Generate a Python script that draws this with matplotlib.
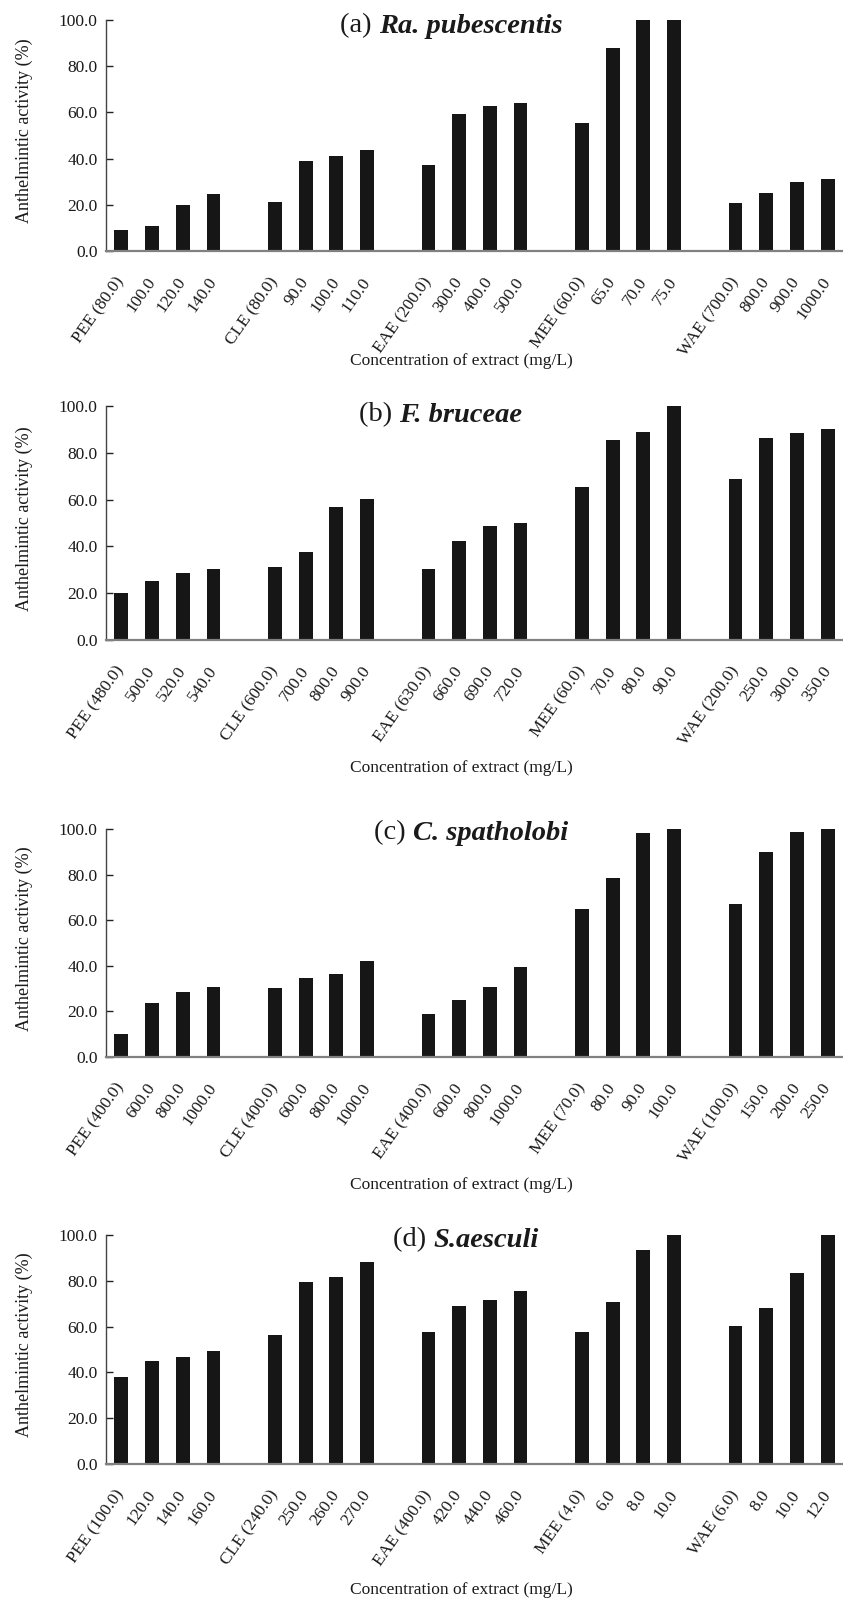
import matplotlib
matplotlib.use("Agg")
import matplotlib.pyplot as plt

plt.rcParams['font.family'] = ['Liberation Serif', 'DejaVu Serif']

titles_prefix = ["(a)", "(b)", "(c)", "(d)"]
titles_name = ["Ra. pubescentis", "F. bruceae", "C. spatholobi", "S.aesculi"]

labels_a = ["PEE (80.0)", "100.0", "120.0", "140.0",
            "CLE (80.0)", "90.0", "100.0", "110.0",
            "EAE (200.0)", "300.0", "400.0", "500.0",
            "MEE (60.0)", "65.0", "70.0", "75.0",
            "WAE (700.0)", "800.0", "900.0", "1000.0"]
values_a = [8.9, 10.8, 20.1, 24.6,
            21.4, 39.1, 41.1, 43.6,
            37.1, 59.4, 62.7, 64.0,
            55.5, 87.7, 100.0, 100.0,
            20.7, 25.3, 29.9, 31.1]

labels_b = ["PEE (480.0)", "500.0", "520.0", "540.0",
            "CLE (600.0)", "700.0", "800.0", "900.0",
            "EAE (630.0)", "660.0", "690.0", "720.0",
            "MEE (60.0)", "70.0", "80.0", "90.0",
            "WAE (200.0)", "250.0", "300.0", "350.0"]
values_b = [20.1, 25.4, 28.7, 30.5,
            31.1, 37.8, 56.8, 60.1,
            30.5, 42.4, 48.9, 50.2,
            65.3, 85.6, 88.9, 100.0,
            68.6, 86.3, 88.3, 90.2]

labels_c = ["PEE (400.0)", "600.0", "800.0", "1000.0",
            "CLE (400.0)", "600.0", "800.0", "1000.0",
            "EAE (400.0)", "600.0", "800.0", "1000.0",
            "MEE (70.0)", "80.0", "90.0", "100.0",
            "WAE (100.0)", "150.0", "200.0", "250.0"]
values_c = [10.2, 23.6, 28.3, 30.8,
            30.2, 34.8, 36.3, 42.1,
            18.8, 24.8, 30.8, 39.5,
            64.9, 78.7, 98.1, 100.0,
            66.9, 90.1, 98.8, 100.0]

labels_d = ["PEE (100.0)", "120.0", "140.0", "160.0",
            "CLE (240.0)", "250.0", "260.0", "270.0",
            "EAE (400.0)", "420.0", "440.0", "460.0",
            "MEE (4.0)", "6.0", "8.0", "10.0",
            "WAE (6.0)", "8.0", "10.0", "12.0"]
values_d = [38.1, 44.8, 46.9, 49.5,
            56.2, 79.5, 81.5, 88.1,
            57.5, 68.9, 71.5, 75.4,
            57.5, 70.7, 93.4, 100.0,
            60.1, 68.1, 83.4, 100.0]

yticks = [0, 20, 40, 60, 80, 100]
xlabel = "Concentration of extract (mg/L)"
ylabel = "Anthelmintic activity (%)"

W, H = 843, 1600
fig = plt.figure(figsize=(W / 100, H / 100), dpi=100)

# layout in pixels: (axes top, axes bottom, title x left, title y center, xlabel y)
layout = [
    (20, 251, 340, 26, 361),
    (406, 640, 359, 415, 768),
    (829, 1057, 374, 833, 1185),
    (1235, 1464, 393, 1240, 1590),
]
ax_left = 106

panels = [(labels_a, values_a), (labels_b, values_b),
          (labels_c, values_c), (labels_d, values_d)]

for k, ((labels, values), (top, bot, tx, ty, xly)) in enumerate(zip(panels, layout)):
    ax = fig.add_axes([ax_left / W, 1 - bot / H, (W - ax_left) / W, (bot - top) / H])
    pos = [i + i // 4 for i in range(len(values))]
    ax.bar(pos, values, width=0.45, color='#161616', zorder=2)
    ax.set_xlim(-0.5, 23.5)
    ax.set_ylim(0, 100)
    ax.set_yticks(yticks)
    ax.set_yticklabels([f"{v:.1f}" for v in yticks], fontsize=12.5, color='#1a1a1a')
    ax.set_xticks(pos)
    ax.set_xticklabels(labels, rotation=55, ha='right', va='center',
                       rotation_mode='anchor', fontsize=12.5, color='#1a1a1a')
    ax.tick_params(axis='x', length=0, pad=20)
    ax.tick_params(axis='y', direction='in', length=5, width=1, color='#222222', pad=6)
    for s in ['top', 'right']:
        ax.spines[s].set_visible(False)
    ax.spines['left'].set_color('#444444')
    ax.spines['left'].set_linewidth(1.0)
    ax.spines['bottom'].set_color('#808080')
    ax.spines['bottom'].set_linewidth(1.6)
    ax.spines['bottom'].set_zorder(3)
    ax.set_ylabel(ylabel, fontsize=13, color='#1a1a1a')
    ax.yaxis.set_label_coords((33 - ax_left) / (W - ax_left), 0.52)
    fig.text(461 / W, 1 - xly / H, xlabel, ha='center', va='center',
             fontsize=12.5, color='#1a1a1a')
    t1 = fig.text(tx / W, 1 - ty / H, titles_prefix[k] + " ", ha='left', va='center',
                  fontsize=20.5, color='#1a1a1a')
    ax.annotate(titles_name[k], xy=(1, 0), xycoords=t1, ha='left', va='bottom',
                fontsize=20.5, fontweight='bold', fontstyle='italic', color='#1a1a1a',
                annotation_clip=False)

fig.savefig("out.png", dpi=100)
